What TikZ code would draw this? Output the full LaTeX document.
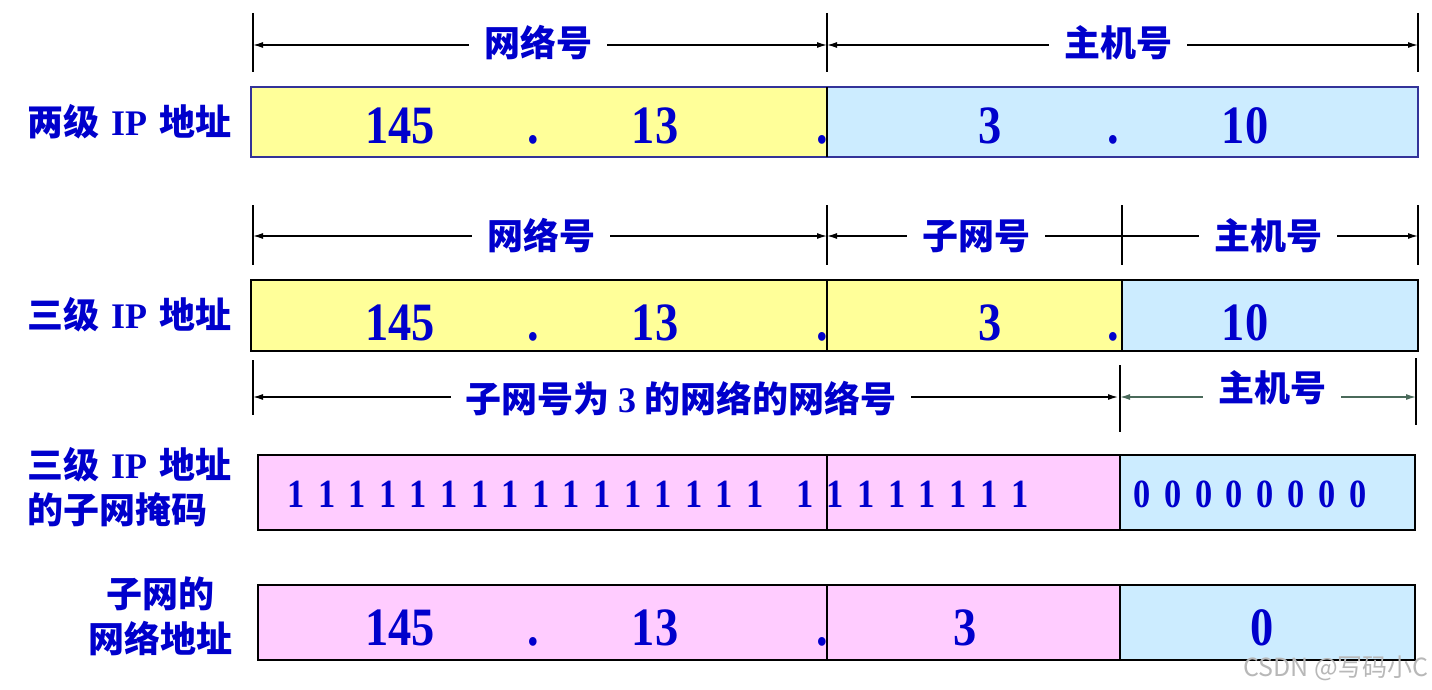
\documentclass[tikz,border=0pt]{standalone}
\usepackage{fontspec}
\usepackage{xcolor}
\usepackage{tikz}
\usetikzlibrary{arrows.meta,positioning}

\setmainfont{Liberation Serif}
\newfontfamily\cjk{Noto Sans CJK SC}
\newfontfamily\numfont{Liberation Serif}[FakeStretch=0.86]

\definecolor{txtblue}{HTML}{0000CC}
\definecolor{netyellow}{HTML}{FFFF99}
\definecolor{hostblue}{HTML}{CCECFF}
\definecolor{maskpink}{HTML}{FFCCFF}
\definecolor{frameblue}{HTML}{333399}
\definecolor{hostgreen}{HTML}{4A6A5A}

\begin{document}
\begin{tikzpicture}[
    x=1pt, y=-1pt,
    >={Latex[length=10pt,width=6pt]},
    cnlabel/.style={font=\cjk\bfseries\fontsize{36}{45}\selectfont, text=txtblue, inner sep=0pt},
    dimlabel/.style={cnlabel, inner xsep=15pt},
    numtext/.style={font=\numfont\bfseries\fontsize{54}{54}\selectfont, text=txtblue, inner sep=0pt, anchor=base},
    bittext/.style={numtext, font=\numfont\bfseries\fontsize{40}{40}\selectfont},
    dimline/.style={->, line width=1.3pt},
    dimtick/.style={line width=1.3pt},
    fieldframe/.style={line width=2.2pt}
]
    \useasboundingbox (0,0) rectangle (1432,690);
    \fill[white] (0,0) rectangle (1432,690);

    % two-level address
    \coordinate (r1a) at (253,45);
    \coordinate (r1b) at (827,45);
    \coordinate (r1c) at (1418,45);
    \foreach \t in {r1a,r1b,r1c}
        \draw[dimtick] (\t) ++(0,-32) -- ++(0,59);
    \node[dimlabel] (r1net) at (538,43) {网络号};
    \node[dimlabel] (r1host) at (1118,43) {主机号};
    \draw[dimline] (r1net.west |- r1a) -- (r1a);
    \draw[dimline] (r1net.east |- r1a) -- (r1b);
    \draw[dimline] (r1host.west |- r1a) -- (r1b);
    \draw[dimline] (r1host.east |- r1a) -- (r1c);

    \fill[netyellow] (251,87) rectangle (827,157);
    \fill[hostblue] (827,87) rectangle (1418,157);
    \draw[fieldframe, frameblue] (251,87) rectangle (1418,157);
    \draw[line width=1.6pt] (827,87) -- (827,157);
    \node[cnlabel, anchor=west] (lvl2) at (27,122) {两级\,\,{\rmfamily IP}\,\,地址};
    \node[numtext] (a1) at (400,143) {145};
    \node[numtext] (d1) at (533,143) {.};
    \node[numtext] (a2) at (655,143) {13};
    \node[numtext] (d2) at (822,143) {.};
    \node[numtext] (a3) at (990,143) {3};
    \node[numtext] (d3) at (1113,143) {.};
    \node[numtext] (a4) at (1245,143) {10};

    % three-level address
    \coordinate (r2a) at (253,236);
    \coordinate (r2b) at (827,236);
    \coordinate (r2c) at (1122,236);
    \coordinate (r2d) at (1418,236);
    \foreach \t in {r2a,r2b,r2c,r2d}
        \draw[dimtick] (\t) ++(0,-31) -- ++(0,60);
    \node[dimlabel] (r2net) at (541,236) {网络号};
    \node[dimlabel] (r2sub) at (976,236) {子网号};
    \node[dimlabel] (r2host) at (1268,236) {主机号};
    \draw[dimline] (r2net.west |- r2a) -- (r2a);
    \draw[dimline] (r2net.east |- r2a) -- (r2b);
    \draw[dimline] (r2sub.west |- r2a) -- (r2b);
    \draw[dimtick] (r2sub.east |- r2a) -- (r2host.west |- r2a);
    \draw[dimline] (r2host.east |- r2a) -- (r2d);

    \fill[netyellow] (251,280) rectangle (1122,351);
    \fill[hostblue] (1122,280) rectangle (1418,351);
    \draw[fieldframe] (251,280) rectangle (1418,351);
    \draw[line width=1.3pt] (827,280) -- (827,351);
    \draw[line width=2pt] (1122,280) -- (1122,351);
    \node[cnlabel, anchor=west] (lvl3) at (27,315) {三级\,\,{\rmfamily IP}\,\,地址};
    \node[numtext] (b1) at (400,340) {145};
    \node[numtext] (e1) at (533,340) {.};
    \node[numtext] (b2) at (655,340) {13};
    \node[numtext] (e2) at (822,340) {.};
    \node[numtext] (b3) at (990,340) {3};
    \node[numtext] (e3) at (1113,340) {.};
    \node[numtext] (b4) at (1245,340) {10};

    % subnet mask
    \coordinate (r3a) at (253,397);
    \coordinate (r3b) at (1120,397);
    \coordinate (r3c) at (1416,397);
    \draw[dimtick] (r3a) ++(0,-37) -- ++(0,55);
    \draw[dimtick] (r3b) ++(0,-32) -- ++(0,67);
    \draw[dimtick] (r3c) ++(0,-39) -- ++(0,67);
    \node[dimlabel] (r3net) at (681,399) {子网号为 {\rmfamily 3} 的网络的网络号};
    \node[dimlabel] (r3host) at (1272,388) {主机号};
    \draw[dimline] (r3net.west |- r3a) -- (r3a);
    \draw[dimline] (r3net.east |- r3a) -- ([xshift=-2pt]r3b);
    \draw[dimline, hostgreen] (r3host.west |- r3b) -- (r3b);
    \draw[dimline, hostgreen] (r3host.east |- r3b) -- (r3c);

    \fill[maskpink] (258,455) rectangle (1120,530);
    \fill[hostblue] (1120,455) rectangle (1415,530);
    \draw[fieldframe] (258,455) rectangle (1415,530);
    \draw[line width=1.3pt] (827,455) -- (827,530);
    \draw[line width=2pt] (1120,455) -- (1120,530);
    \node[cnlabel, anchor=west, align=left] (maskl) at (27,487) {三级\,\,{\rmfamily IP}\,\,地址\\的子网掩码};
    \foreach \i in {0,...,15}
        \node[bittext] (one\i) at (296+30.6*\i,507) {1};
    \node[bittext] (one16) at (805,507) {1};
    \foreach \i in {17,...,23}
        \node[bittext] (one\i) at (835+30.8*\i-30.8*17,507) {1};
    \foreach \i in {0,...,7}
        \node[bittext] (zero\i) at (1142+30.8*\i,507) {0};

    % subnet address
    \fill[maskpink] (258,585) rectangle (1120,660);
    \fill[hostblue] (1120,585) rectangle (1415,660);
    \draw[fieldframe] (258,585) rectangle (1415,660);
    \draw[line width=1.3pt] (827,585) -- (827,660);
    \draw[line width=2pt] (1120,585) -- (1120,660);
    \node[cnlabel, align=center] (subl) at (160,616) {子网的\\网络地址};
    \node[numtext] (c1) at (400,645) {145};
    \node[numtext] (f1) at (533,645) {.};
    \node[numtext] (c2) at (655,645) {13};
    \node[numtext] (f2) at (822,645) {.};
    \node[numtext] (c3) at (965,645) {3};
    \node[numtext] (c4) at (1262,645) {0};

    \node[font=\cjk\fontsize{25}{25}\selectfont, text=black!28, anchor=east, inner sep=0pt] (mark) at (1429,668) {CSDN @写码小C};
\end{tikzpicture}
\end{document}
